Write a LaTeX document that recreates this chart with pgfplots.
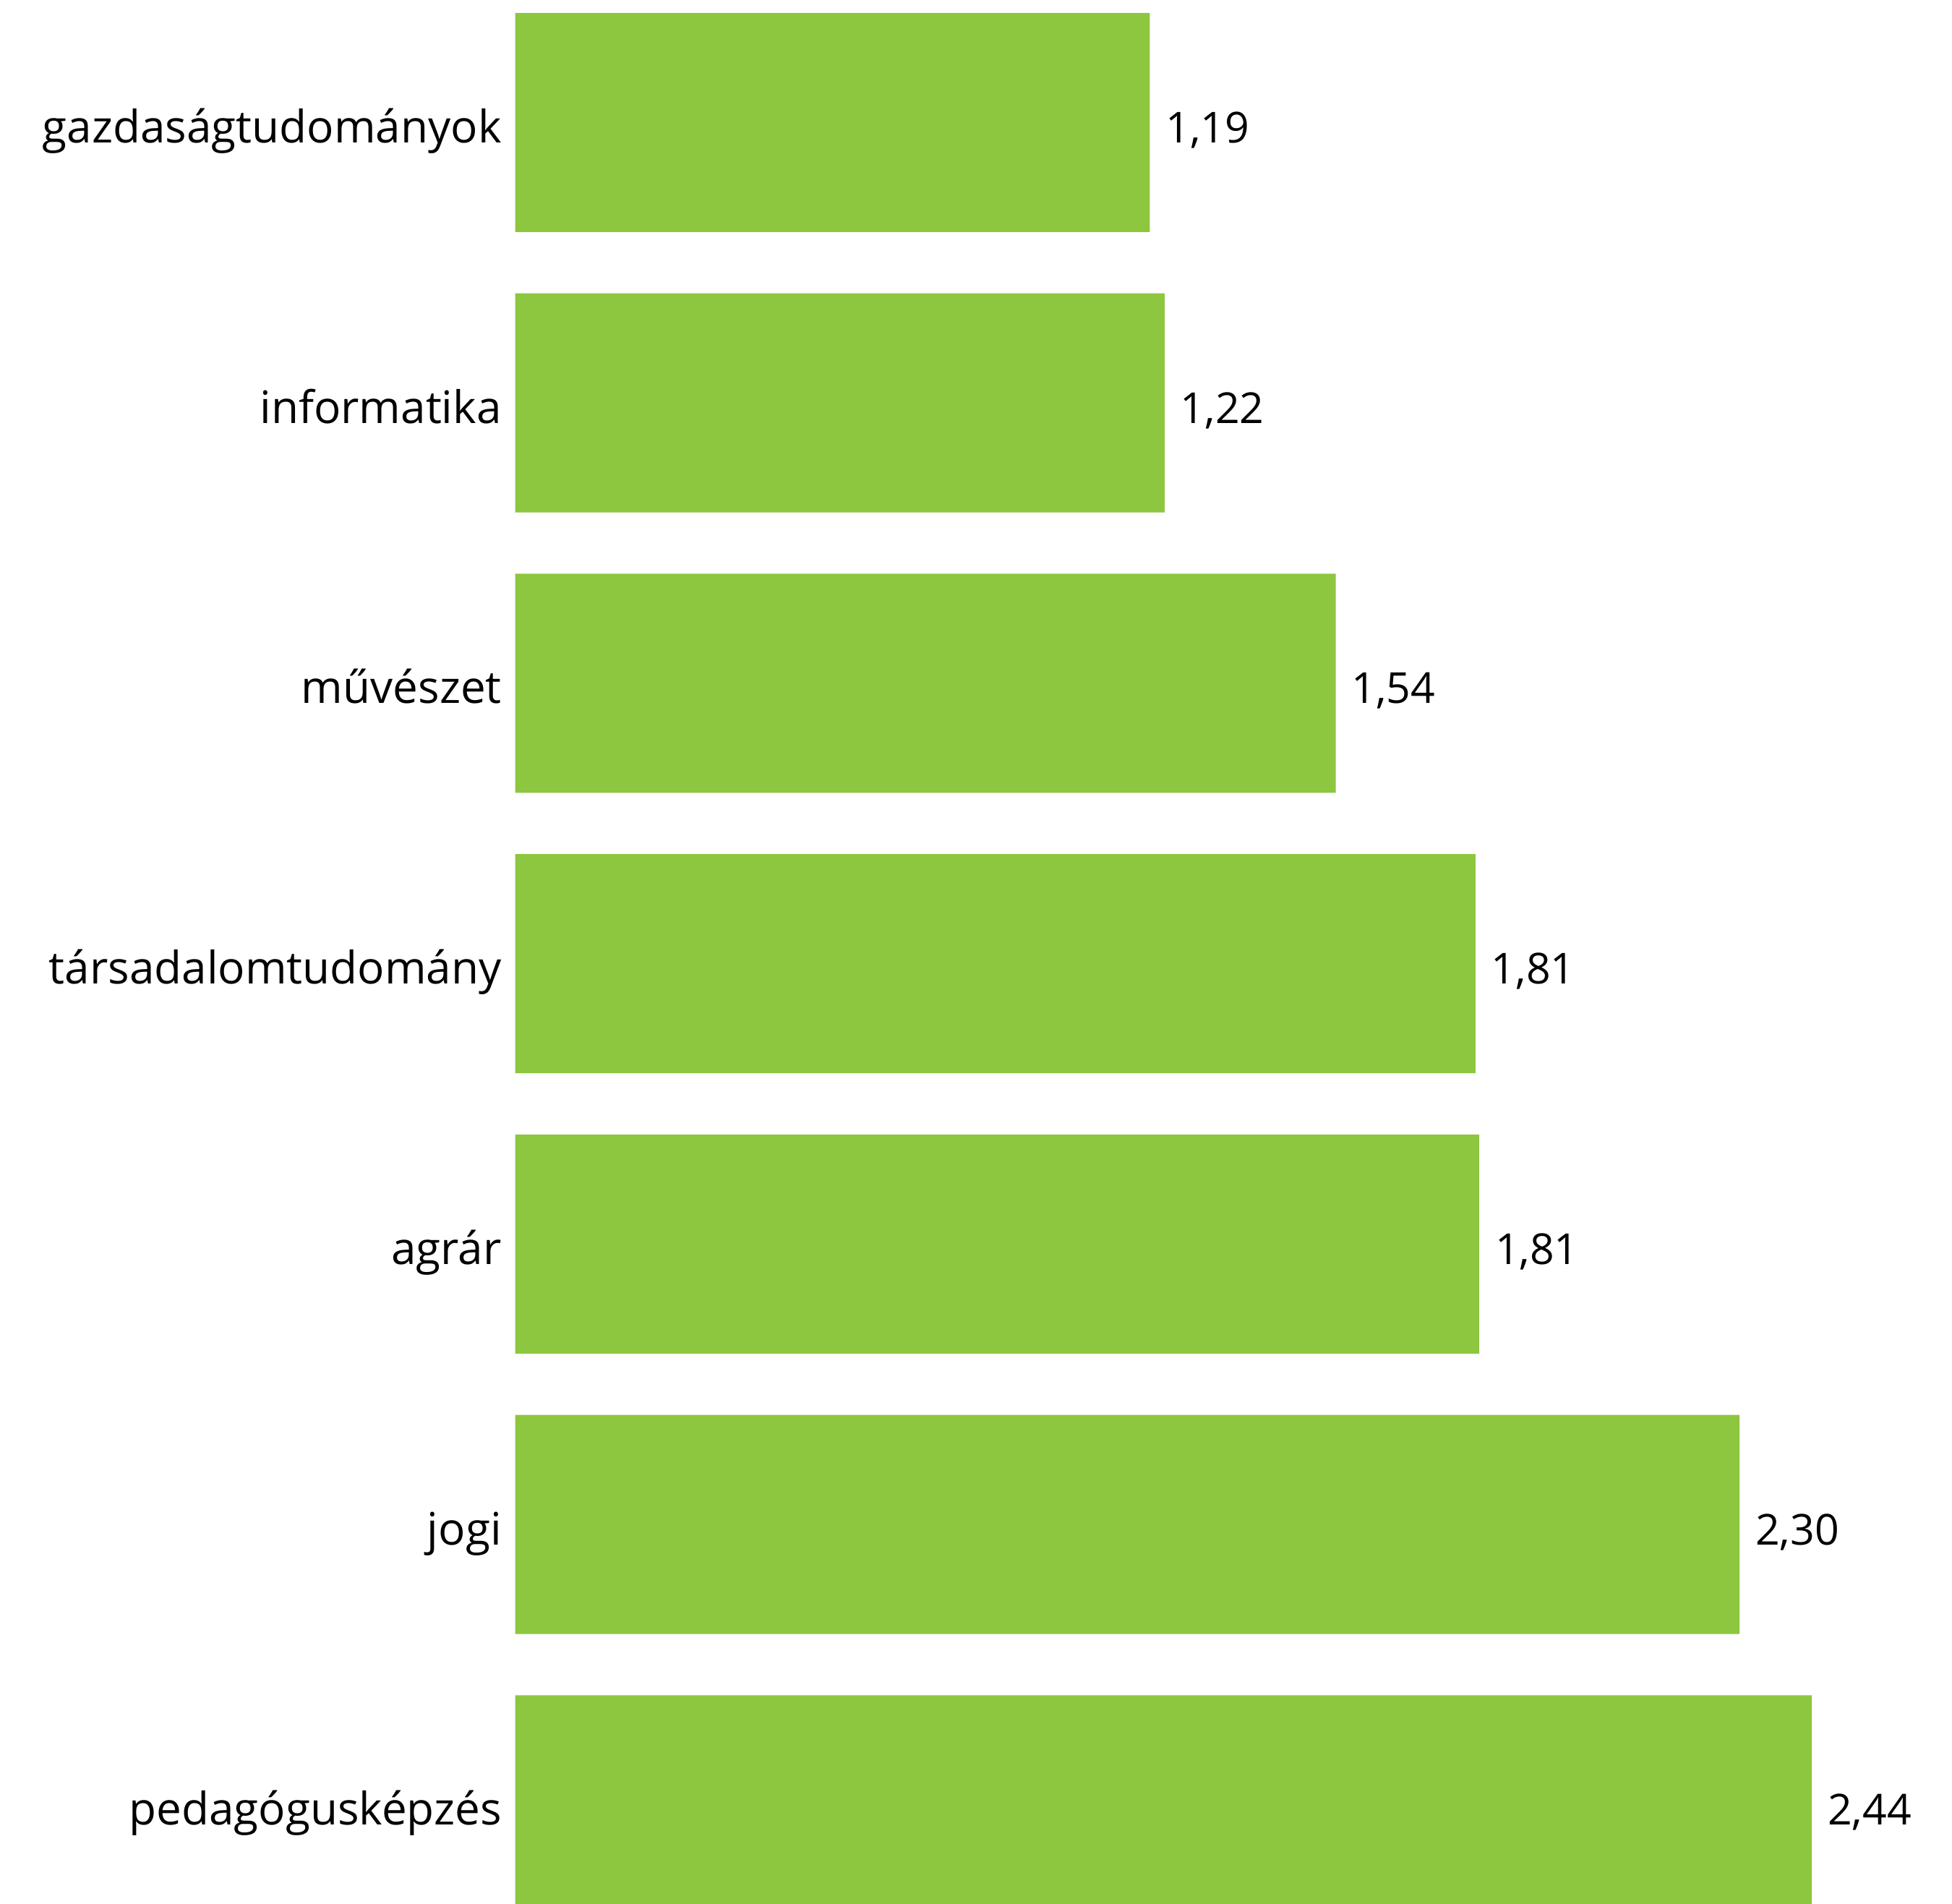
\documentclass[border=0pt]{standalone}
\usepackage{pgfplots}
\pgfplotsset{compat=1.18}
\usepackage{fontspec}
\setmainfont{Open Sans}
\definecolor{bargreen}{RGB}{141,198,63}
\newcommand{\lblfont}{\fontsize{12.4}{14}\selectfont}
\newcommand{\numfont}{\fontsize{11.8}{14}\selectfont}
\begin{document}
\begin{tikzpicture}
\begin{axis}[
  at={(142.54pt,0pt)}, anchor=south west,
  scale only axis, width=397.46pt, height=526.6pt,
  xbar, bar width=60.6pt,
  xmin=0, xmax=2.7038, ymin=-0.437, ymax=6.354, y dir=reverse,
  axis line style={draw=none},
  major tick length=0pt,
  xtick=\empty,
  ytick={0,1,2,3,4,5,6},
  yticklabels={gazdaságtudományok, informatika, művészet, társadalomtudomány, agrár, jogi, pedagógusképzés},
  yticklabel style={anchor=base east, inner sep=0pt, xshift=-3.6pt, yshift=-5.6pt, font=\lblfont},
  clip=false,
  point meta=x,
  nodes near coords={\pgfmathprintnumber[fixed,fixed zerofill,precision=2,use comma,assume math mode=true]{\pgfplotspointmeta}},
  nodes near coords style={anchor=base west, inner sep=0pt, xshift=4.2pt, yshift=-5.6pt, font=\numfont, text=black},
]
\addplot[fill=bargreen, draw=none] coordinates {(1.194,0) (1.222,1) (1.544,2) (1.807,3) (1.814,4) (2.304,5) (2.44,6)};
\end{axis}
\pgfresetboundingbox
\useasboundingbox (0,0) rectangle (540pt,526.6pt);
\end{tikzpicture}
\end{document}
